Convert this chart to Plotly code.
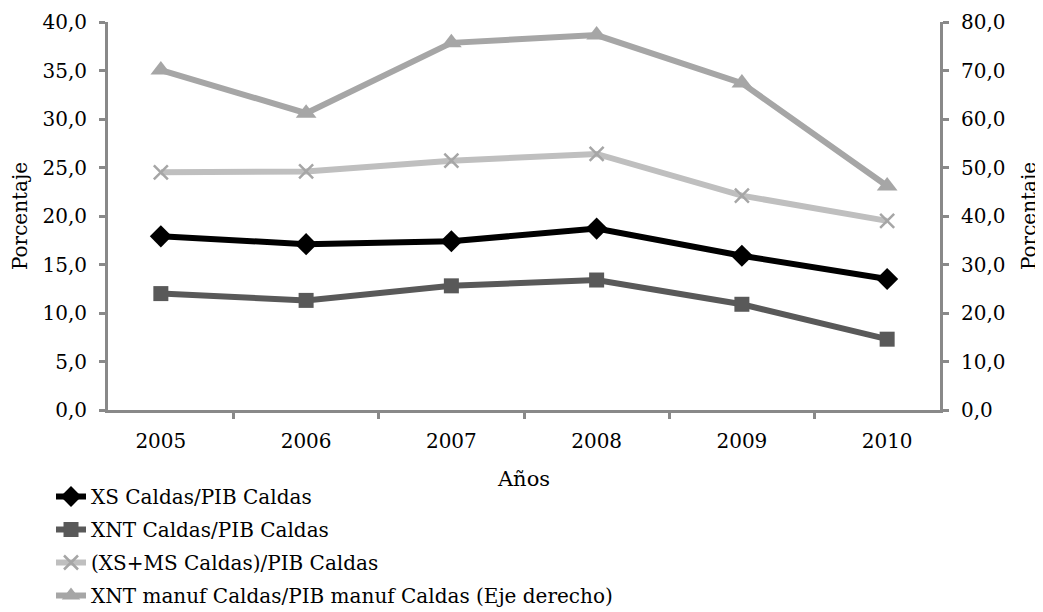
import plotly.graph_objects as go

years = ["2005", "2006", "2007", "2008", "2009", "2010"]
xs_pib = [17.9, 17.1, 17.4, 18.7, 15.9, 13.5]
xnt_pib = [12.0, 11.3, 12.8, 13.4, 10.9, 7.3]
xsms_pib = [24.5, 24.6, 25.7, 26.4, 22.1, 19.5]
xnt_manuf = [70.1, 61.2, 75.7, 77.3, 67.4, 46.2]

names = [
    "XS Caldas/PIB Caldas",
    "XNT Caldas/PIB Caldas",
    "(XS+MS Caldas)/PIB Caldas",
    "XNT manuf Caldas/PIB manuf Caldas (Eje derecho)",
]

FONT = "DejaVu Serif"
AX = "#898989"

fig = go.Figure()
fig.add_trace(go.Scatter(x=years, y=xs_pib, name=names[0], mode="lines+markers",
                         line=dict(color="black", width=6),
                         marker=dict(symbol="diamond", size=17, color="black"),
                         legendgroup="a"))
fig.add_trace(go.Scatter(x=years, y=xnt_pib, name=names[1], mode="lines+markers",
                         line=dict(color="#595959", width=6),
                         marker=dict(symbol="square", size=15, color="#595959"),
                         legendgroup="b"))
fig.add_trace(go.Scatter(x=years, y=xsms_pib, name=names[2], mode="lines+markers",
                         line=dict(color="#bfbfbf", width=6),
                         marker=dict(symbol="x-thin", size=14, color="#a6a6a6",
                                     line=dict(color="#a6a6a6", width=2.5)),
                         legendgroup="c"))
fig.add_trace(go.Scatter(x=years, y=xnt_manuf, name=names[3], mode="lines+markers",
                         line=dict(color="#a6a6a6", width=6),
                         marker=dict(symbol="triangle-up", size=18, color="#a6a6a6"),
                         yaxis="y2", legendgroup="d"))

fig.update_layout(
    width=1035, height=604,
    margin=dict(l=100, r=103, t=14, b=202, autoexpand=False),
    paper_bgcolor="white", plot_bgcolor="white",
    separators=",.",
    font=dict(family=FONT, size=20, color="black"),
    showlegend=True,
    legend=dict(x=-0.0685, y=-0.1727,
                xanchor="left", yanchor="top",
                orientation="v", font=dict(family=FONT, size=20),
                tracegroupgap=4, itemwidth=30, bgcolor="rgba(0,0,0,0)"),
    xaxis=dict(type="category", showline=True, linecolor=AX, linewidth=3,
               ticks="outside", tickson="boundaries", tickcolor=AX, tickwidth=3,
               ticklen=6, showgrid=False, zeroline=False, automargin=False,
               ticklabelstandoff=11,
               title=dict(text="Años", font=dict(size=21), standoff=20),
               tickfont=dict(size=20)),
    yaxis=dict(range=[0, 40], dtick=5, tickformat=".1f", showline=True,
               linecolor=AX, linewidth=3, ticks="outside", tickcolor=AX,
               tickwidth=3, ticklen=6, showgrid=False, zeroline=False,
               automargin=False, ticklabelstandoff=8,
               title=dict(text="Porcentaje", font=dict(size=20), standoff=12),
               tickfont=dict(size=20)),
    yaxis2=dict(range=[0, 80], dtick=10, tickformat=".1f", overlaying="y",
                side="right", anchor="x", showline=True, linecolor=AX,
                linewidth=3, ticks="outside", tickcolor=AX, tickwidth=3,
                ticklen=6, showgrid=False, zeroline=False, automargin=False,
                ticklabelstandoff=8,
                title=dict(text="Porcentaje", font=dict(size=20), standoff=18),
                tickfont=dict(size=20)),
)

fig.write_html("out.html")
